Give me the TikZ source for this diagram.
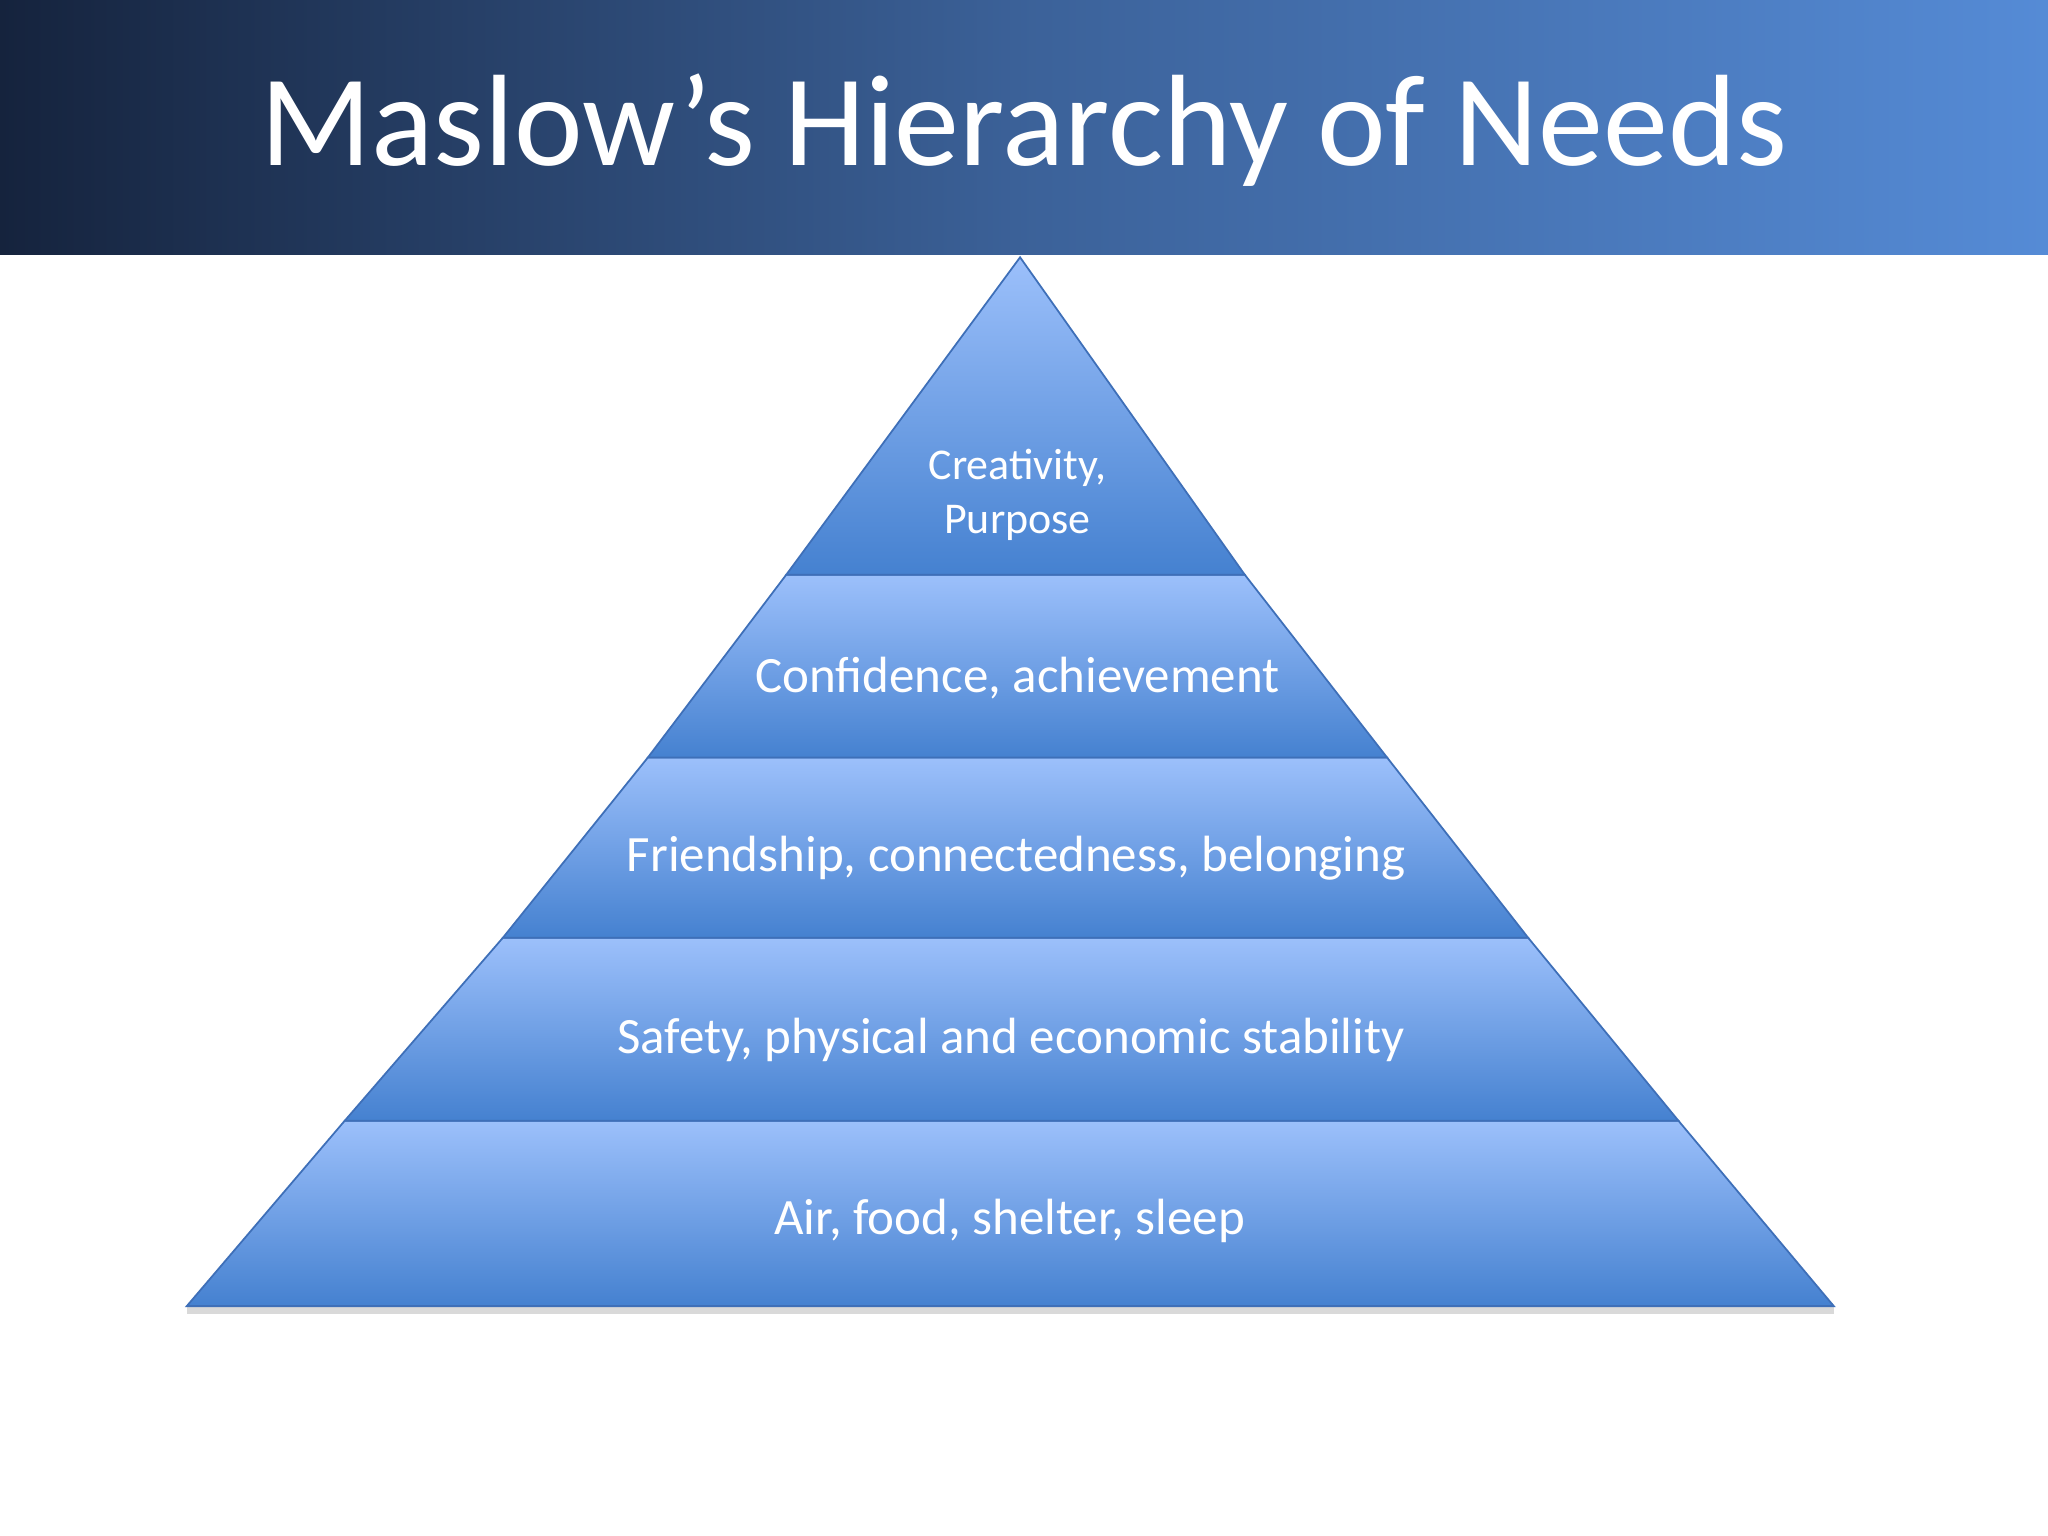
\documentclass[tikz,border=0pt]{standalone}
\usepackage{fontspec}
\setmainfont{Carlito}
\begin{document}
\begin{tikzpicture}[x=0.013061cm,y=-0.013061cm]
\definecolor{navy}{HTML}{15233D}
\definecolor{hblue}{HTML}{558BD6}
\definecolor{ltop}{HTML}{9CC0FB}
\definecolor{lbot}{HTML}{4581D0}
\definecolor{edge}{HTML}{3E6FB8}
\tikzset{band/.style={top color=ltop,bottom color=lbot,draw=edge,line width=0.5pt},
 lbl/.style={text=white,font=\fontsize{14.5}{17}\selectfont,align=center}}
\useasboundingbox (0,0) rectangle (1568,1176);
\fill[white] (0,0) rectangle (1568,1176);
\shade[left color=navy,right color=hblue,middle color=navy!40!hblue] (0,0) rectangle (1568,195);
\node[text=white,font=\fontsize{37}{40}\selectfont] (title) at (784,100) {Maslow’s Hierarchy of Needs};
% shadows
\foreach \ya/\xl/\xr in {440/602/953,580/496/1062,718/385/1170,858/264/1285,1000/143/1404}
  \fill[gray!30] (\xl,\ya) rectangle (\xr,\ya+6);
\path[band] (143,1000) -- (264,858) -- (1285,858) -- (1404,1000) -- cycle;
\path[band] (264,858) -- (385,718) -- (1170,718) -- (1285,858) -- cycle;
\path[band] (385,718) -- (496,580) -- (1062,580) -- (1170,718) -- cycle;
\path[band] (496,580) -- (602,440) -- (953,440) -- (1062,580) -- cycle;
\path[band] (602,440) -- (781,197) -- (953,440) -- cycle;
\node[lbl,font=\fontsize{12.5}{15.5}\selectfont] (l5) at (779,379) {Creativity,\\Purpose};
\node[lbl] (l4) at (779,519) {Confidence, achievement};
\node[lbl] (l3) at (778,657) {Friendship, connectedness, belonging};
\node[lbl] (l2) at (774,796) {Safety, physical and economic stability};
\node[lbl] (l1) at (773,935) {Air, food, shelter, sleep};
\end{tikzpicture}
\end{document}
